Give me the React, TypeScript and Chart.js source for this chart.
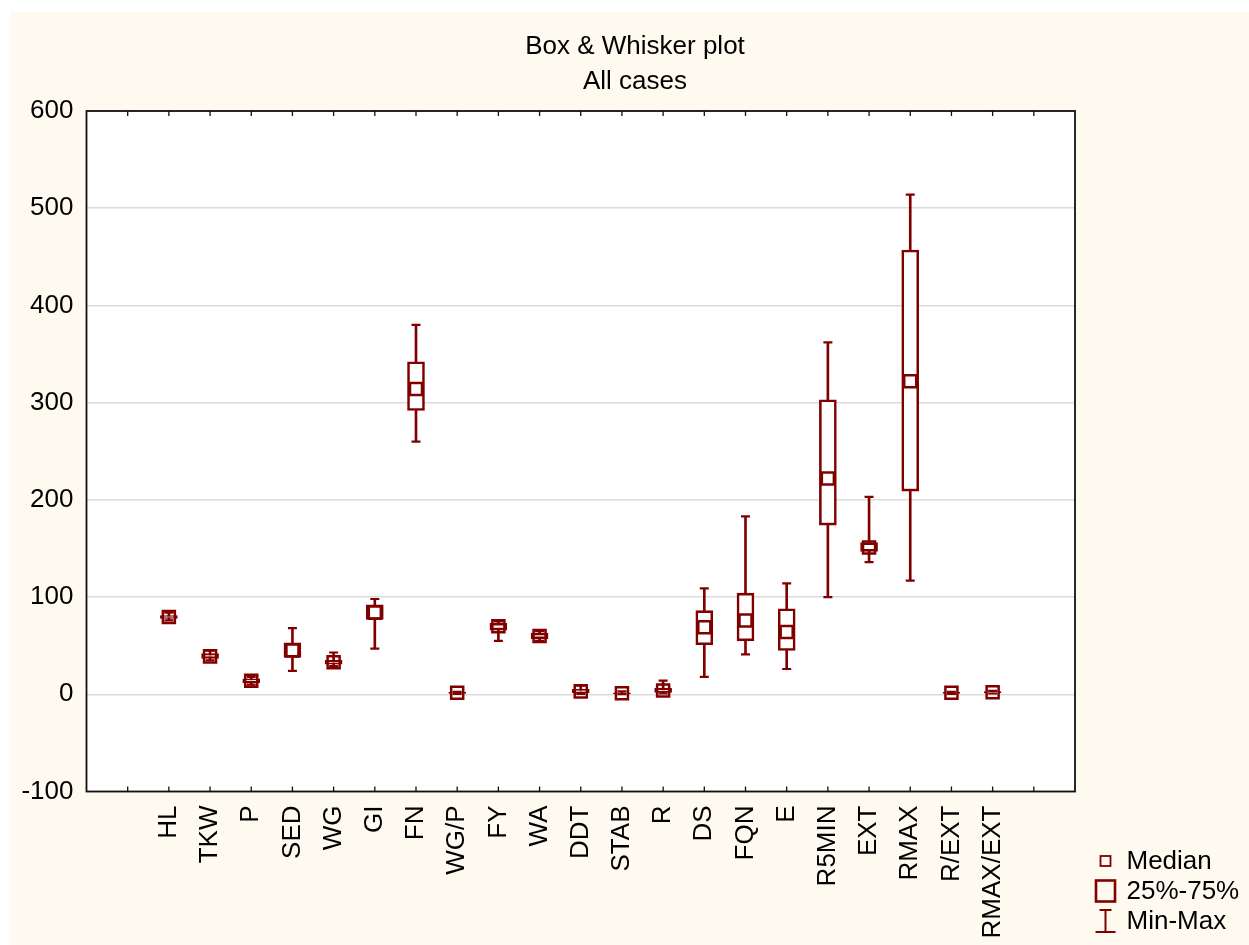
import React, { useEffect, useRef } from 'react';
import { Chart, registerables } from 'chart.js';

Chart.register(...registerables);

const categories = ['HL', 'TKW', 'P', 'SED', 'WG', 'GI', 'FN', 'WG/P', 'FY', 'WA', 'DDT', 'STAB', 'R', 'DS', 'FQN', 'E', 'R5MIN', 'EXT', 'RMAX', 'R/EXT', 'RMAX/EXT'];
const minValues = [76, 35, 10, 24, 29, 47, 260, 0.5, 55, 55, 0.5, 0.2, 1, 18, 41, 26, 100, 136, 117, 0.5, 0.8];
const q1Values = [78, 37, 12, 38, 31, 77, 292, 1, 66, 57, 1.5, 0.6, 2, 51, 55, 45, 174, 147, 209, 1, 1.3];
const medianValues = [79.5, 39, 14, 45, 33, 84, 314, 1.5, 70, 60, 3, 1, 4, 69, 76, 64, 222, 151, 322, 1.5, 2];
const q3Values = [81, 42, 16, 53, 35, 92, 342, 2, 73, 63, 5, 1.5, 6, 86, 104, 88, 303, 156, 457, 2, 2.7];
const maxValues = [84, 45, 18, 68, 43, 98, 380, 2.5, 75, 65, 9, 3, 14, 109, 183, 114, 362, 203, 514, 2.5, 3.5];

const titleLines = ['Box & Whisker plot', 'All cases'];
const legendLabels = ['Median', '25%-75%', 'Min-Max'];
const yMin = -100;
const yMax = 600;
const yStep = 100;

const MAROON = '#800000';
const FONT = '"Liberation Sans", Arial, sans-serif';
const FS = 26;
const W = 1239;
const H = 933;

export default function App() {
  const ref = useRef<HTMLCanvasElement | null>(null);

  useEffect(() => {
    if (!ref.current) return;
    document.body.style.margin = '0';

    const plotBgPlugin = {
      id: 'plotBg',
      beforeDraw(chart: any) {
        const { ctx, chartArea: a } = chart;
        ctx.save();
        ctx.fillStyle = '#ffffff';
        ctx.fillRect(a.left, a.top, a.right - a.left, a.bottom - a.top);
        ctx.restore();
      },
    };

    const framePlugin = {
      id: 'frameTicks',
      afterDatasetsDraw(chart: any) {
        const { ctx, chartArea: a, scales } = chart;
        const xs = scales.x;
        ctx.save();
        ctx.strokeStyle = '#111';
        ctx.lineWidth = 1.8;
        ctx.strokeRect(a.left, a.top, a.right - a.left, a.bottom - a.top);
        ctx.lineWidth = 1.3;
        ctx.beginPath();
        for (let v = -1; v <= categories.length; v++) {
          const px = xs.getPixelForValue(v);
          ctx.moveTo(px, a.top);
          ctx.lineTo(px, a.top + 5);
          ctx.moveTo(px, a.bottom);
          ctx.lineTo(px, a.bottom - 5);
        }
        ctx.stroke();
        ctx.restore();
      },
    };

    const legendPlugin = {
      id: 'boxLegend',
      afterDraw(chart: any) {
        const { ctx } = chart;
        const mx = 1095.5;
        const rows = [849, 879, 909];
        ctx.save();
        ctx.strokeStyle = MAROON;
        ctx.lineWidth = 1.8;
        ctx.strokeRect(mx - 5, rows[0] - 5, 10, 10);
        ctx.lineWidth = 2.6;
        ctx.strokeRect(mx - 9.5, rows[1] - 10.5, 19, 21);
        ctx.lineWidth = 2;
        ctx.beginPath();
        ctx.moveTo(mx, rows[2] - 11);
        ctx.lineTo(mx, rows[2] + 11);
        ctx.moveTo(mx - 6, rows[2] - 11);
        ctx.lineTo(mx + 6, rows[2] - 11);
        ctx.moveTo(mx - 10, rows[2] + 11);
        ctx.lineTo(mx + 10, rows[2] + 11);
        ctx.stroke();
        ctx.fillStyle = '#000';
        ctx.font = `${FS}px ${FONT}`;
        ctx.textBaseline = 'middle';
        ctx.textAlign = 'left';
        legendLabels.forEach((t, i) => ctx.fillText(t, 1116.5, rows[i] + 1));
        ctx.restore();
      },
    };

    const idx = categories.map((_, i) => i);

    const chart = new Chart(ref.current, {
      type: 'bar',
      data: {
        datasets: [
          {
            type: 'scatter',
            label: 'Median',
            data: idx.map((i) => ({ x: i, y: medianValues[i] })),
            pointStyle: 'rect',
            pointRadius: 8.5,
            pointBorderWidth: 2.5,
            pointBorderColor: MAROON,
            pointBackgroundColor: 'rgba(0,0,0,0)',
            order: 0,
          } as any,
          {
            type: 'scatter',
            label: 'Max',
            data: idx.map((i) => ({ x: i, y: maxValues[i] })),
            pointStyle: 'line',
            pointRadius: 4.5,
            pointBorderWidth: 2.2,
            pointBorderColor: MAROON,
            order: 1,
          } as any,
          {
            type: 'scatter',
            label: 'Min',
            data: idx.map((i) => ({ x: i, y: minValues[i] })),
            pointStyle: 'line',
            pointRadius: 4.5,
            pointBorderWidth: 2.2,
            pointBorderColor: MAROON,
            order: 1,
          } as any,
          {
            type: 'bar',
            label: '25%-75%',
            data: idx.map((i) => ({ x: i, y: [q1Values[i], q3Values[i]] })),
            barThickness: 17,
            backgroundColor: '#ffffff',
            borderColor: MAROON,
            borderWidth: 2.6,
            borderSkipped: false,
            grouped: false,
            order: 2,
          } as any,
          {
            type: 'bar',
            label: 'Min-Max',
            data: idx.map((i) => ({ x: i, y: [minValues[i], maxValues[i]] })),
            barThickness: 2,
            backgroundColor: MAROON,
            borderWidth: 0,
            grouped: false,
            order: 3,
          } as any,
        ],
      },
      options: {
        animation: false,
        responsive: false,
        maintainAspectRatio: false,
        layout: { padding: { left: 11, right: 0, top: 0, bottom: 0 } },
        plugins: {
          legend: { display: false },
          tooltip: { enabled: false },
          title: {
            display: true,
            text: titleLines,
            color: '#000',
            font: { family: FONT, size: FS, weight: 'normal', lineHeight: 1.35 },
            padding: { top: 17, bottom: 11.8 },
          },
        },
        scales: {
          x: {
            type: 'linear',
            min: -2,
            max: 22,
            offset: false,
            grid: { display: false, drawTicks: false },
            border: { display: false },
            ticks: {
              stepSize: 1,
              autoSkip: false,
              maxTicksLimit: 40,
              minRotation: 90,
              maxRotation: 90,
              padding: 14,
              color: '#000',
              font: { family: FONT, size: FS },
              callback: (value: any) => {
                const i = Number(value);
                return Number.isInteger(i) && i >= 0 && i < categories.length ? categories[i] : '';
              },
            },
            afterFit: (scale: any) => {
              scale.height = H - 779.5;
            },
          },
          y: {
            type: 'linear',
            min: yMin,
            max: yMax,
            grid: { color: '#dcdcdc', lineWidth: 1.5, drawTicks: false },
            border: { display: false },
            ticks: {
              stepSize: yStep,
              padding: 13,
              color: '#000',
              font: { family: FONT, size: FS },
            },
            afterFit: (scale: any) => {
              scale.width = 76.5 - 11;
            },
          },
          yR: {
            type: 'linear',
            position: 'right',
            display: true,
            grid: { display: false, drawTicks: false },
            border: { display: false },
            ticks: { display: false },
            afterFit: (scale: any) => {
              scale.width = 174;
            },
          },
        },
      } as any,
      plugins: [plotBgPlugin, framePlugin, legendPlugin],
    });

    return () => chart.destroy();
  }, []);

  return (
    <div
      style={{
        position: 'absolute',
        left: 10,
        top: 12,
        width: W,
        height: H,
        background: '#fffaf0',
      }}
    >
      <canvas ref={ref} width={W} height={H} style={{ display: 'block', width: W, height: H }} />
    </div>
  );
}
